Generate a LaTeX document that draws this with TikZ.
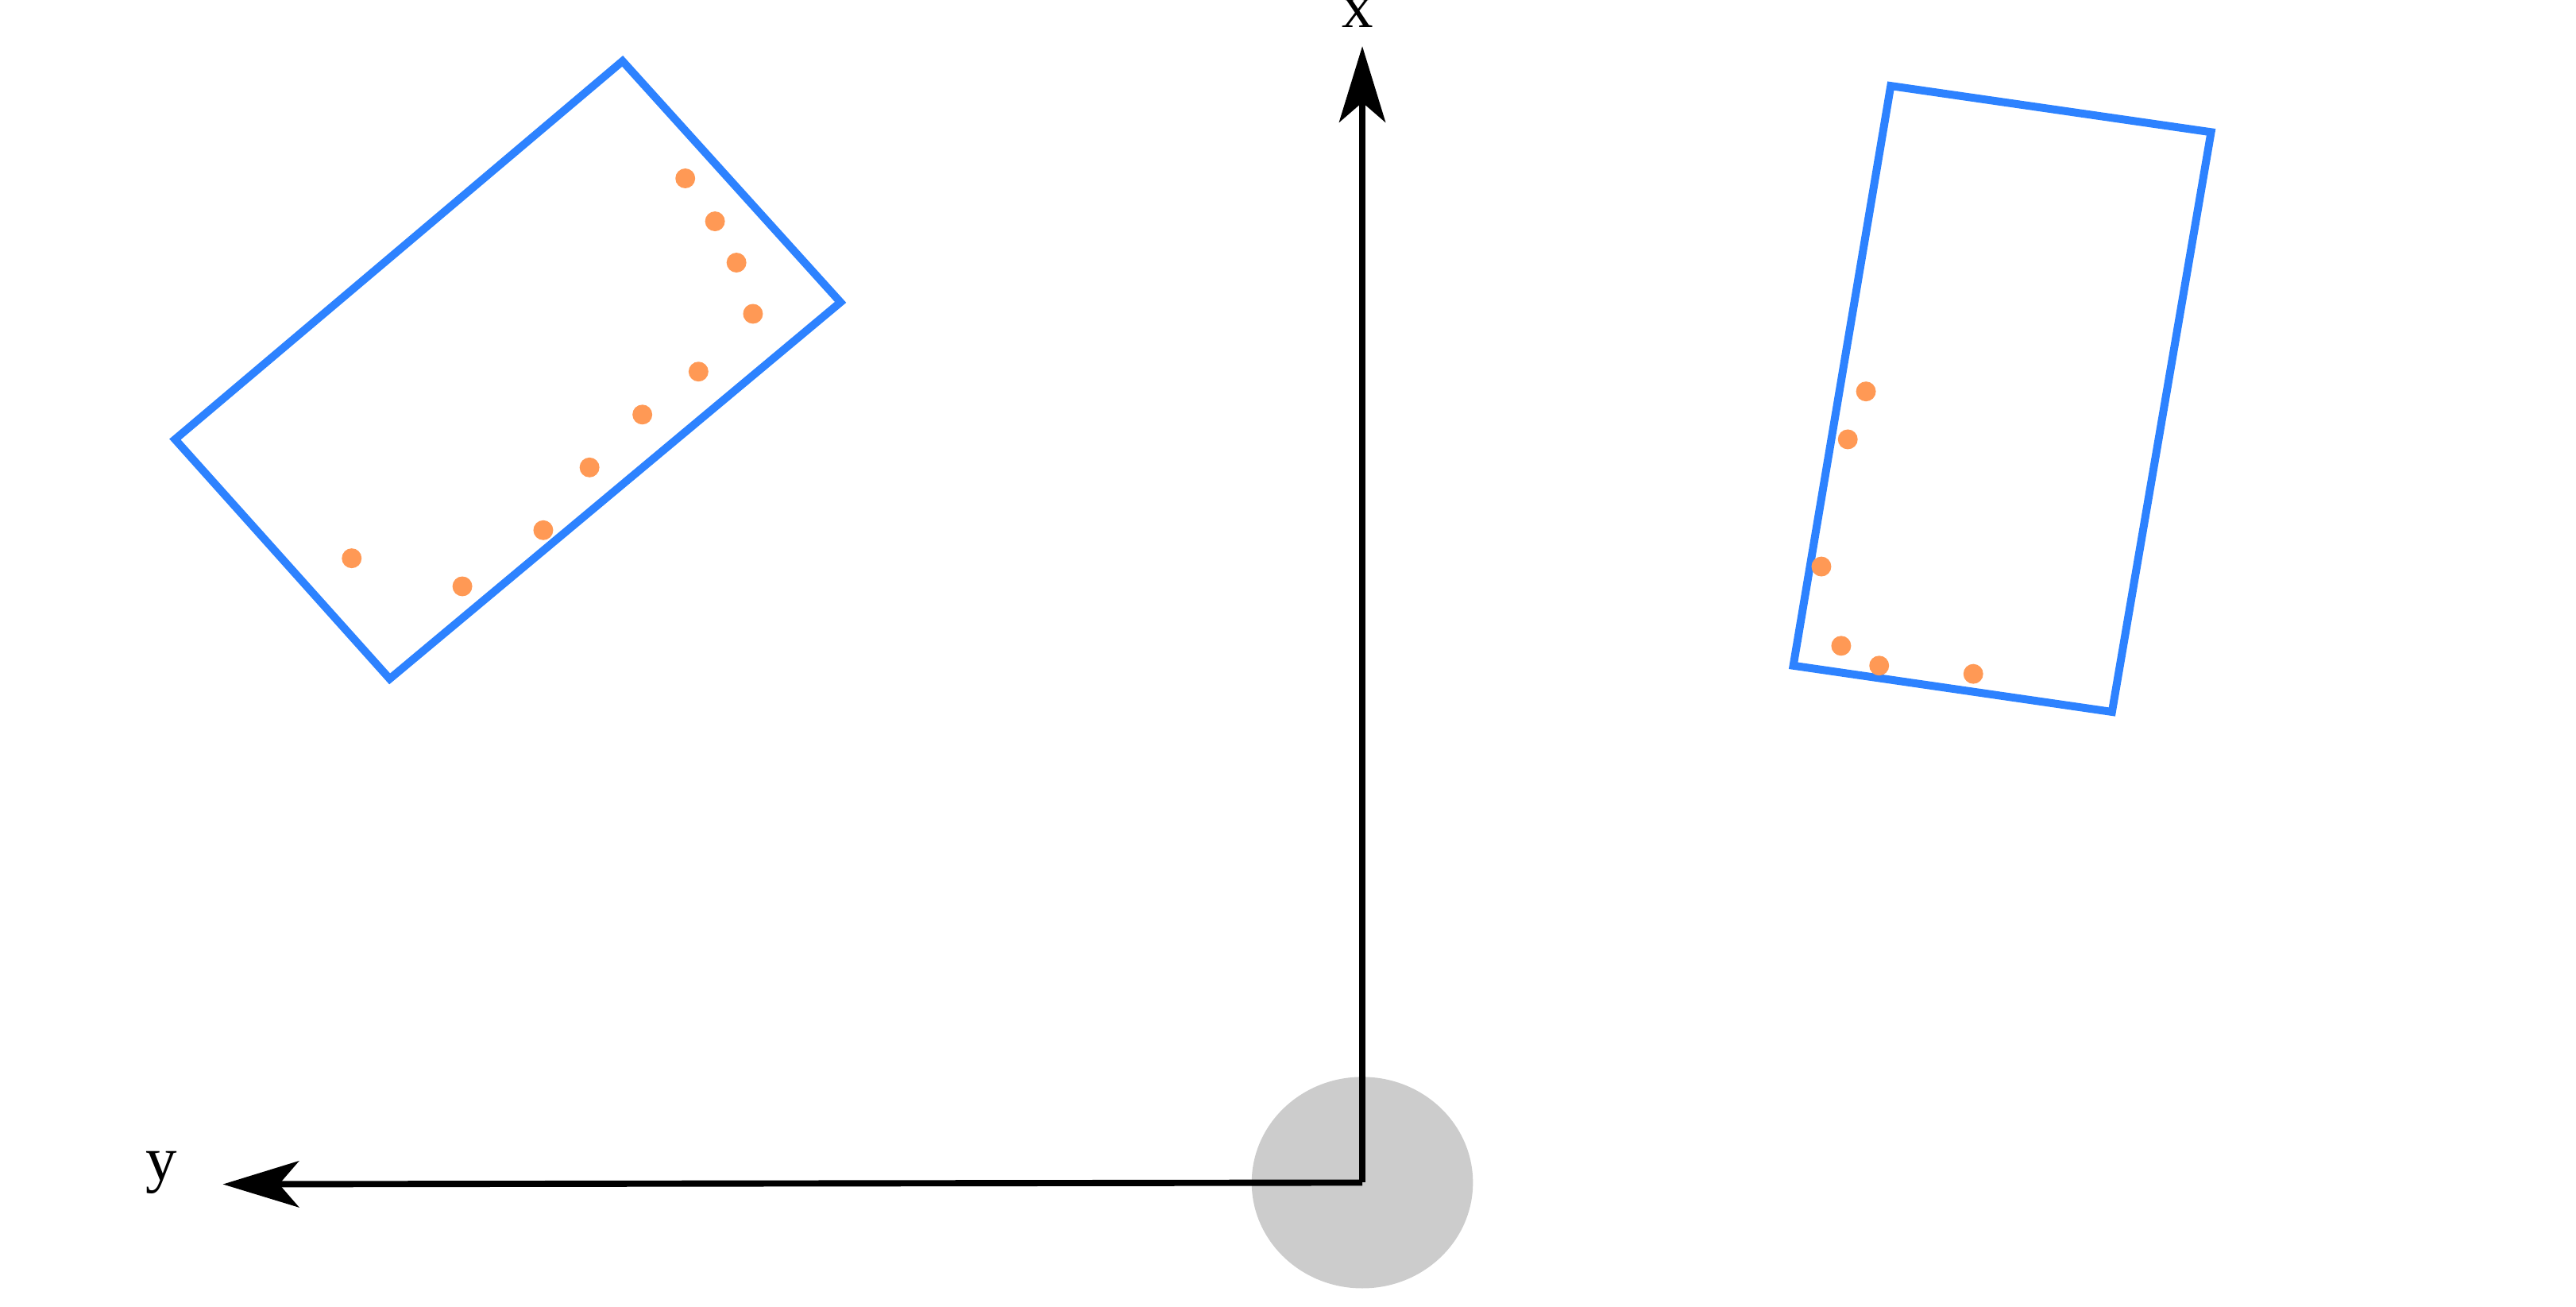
\documentclass[tikz,border=0pt]{standalone}
\usepackage{fontspec}
\setmainfont{Liberation Serif}
\usetikzlibrary{arrows.meta}
\definecolor{boxblue}{RGB}{45,130,255}
\definecolor{dotorange}{RGB}{255,153,85}
\tikzset{
  boxline/.style={draw=boxblue, line width=2.4pt},
  dot/.style={circle, fill=dotorange, minimum size=6pt, inner sep=0pt},
  axis/.style={line width=1.9pt, -{Stealth[length=23pt, width=14pt, inset=6pt]}}
}
\begin{document}
\begin{tikzpicture}[x=0.5pt, y=-0.5pt, every node/.style={inner sep=0pt}]
\useasboundingbox (0,0) rectangle (1560,791);
\fill[gray!40] (825,716) ellipse [x radius=33.5pt, y radius=32pt];
\coordinate (o) at (825,716);
\coordinate (xend) at (825,28);
\coordinate (yend) at (135,717);
\node (xlabel) [font=\fontsize{19}{19}\selectfont] at (822,8) {x};
\node (ylabel) [font=\fontsize{19}{19}\selectfont] at (98,710) {y};
\draw [axis] (o) -- (xend);
\draw [axis] (o) -- (yend);
\draw [boxline] (377,37) -- (509,183) -- (236,411) -- (106,266) -- cycle;
\draw [boxline] (1145,52) -- (1339,80) -- (1279,431) -- (1086,403) -- cycle;
\foreach \px/\py [count=\i] in {415/108,433/134,446/159,456/190,423/225,389/251,357/283,329/321,280/355,213/338}
  \node (l\i) [dot] at (\px,\py) {};
\foreach \px/\py [count=\i] in {1130/237,1119/266,1103/343,1115/391,1138/403,1195/408}
  \node (r\i) [dot] at (\px,\py) {};
\end{tikzpicture}
\end{document}
